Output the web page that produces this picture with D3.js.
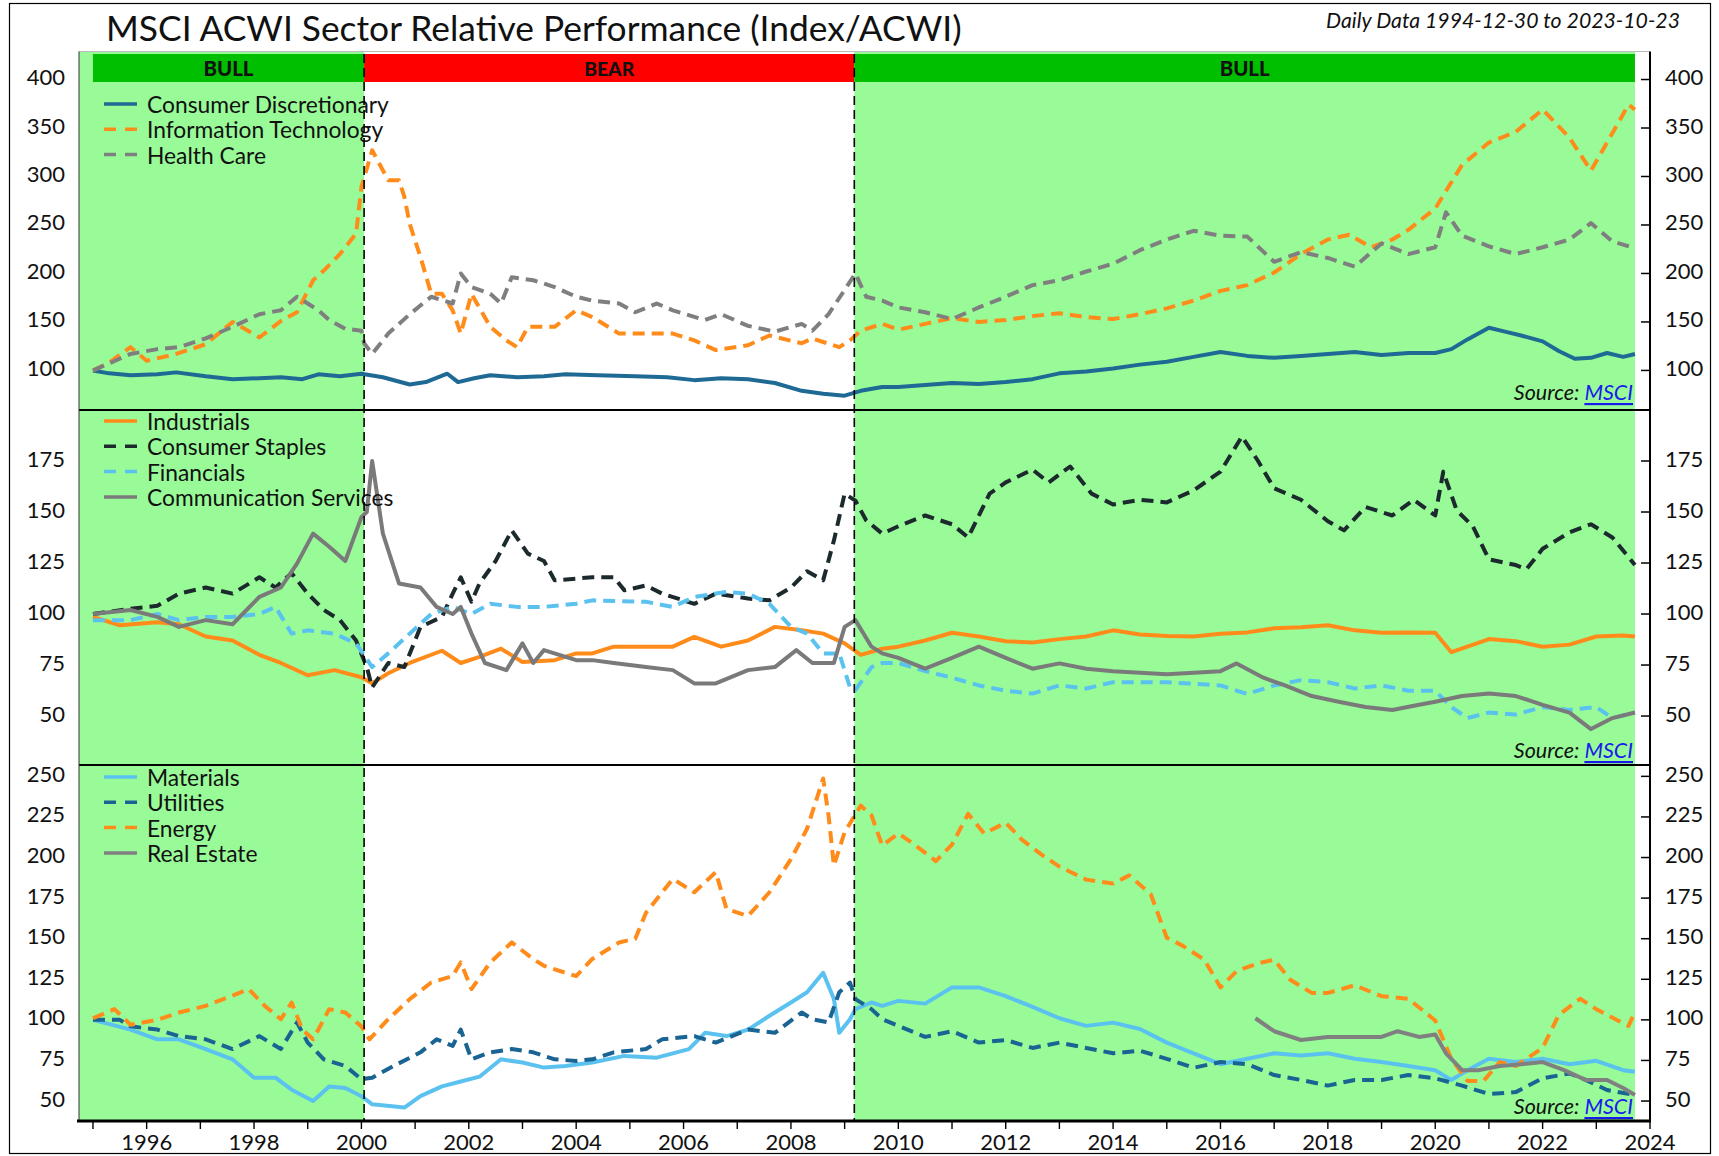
<!DOCTYPE html>
<html><head><meta charset="utf-8">
<script src="https://cdn.jsdelivr.net/npm/d3@7"></script>
<style>
body{margin:0;background:#fff}
svg{display:block}
text{font-family:Lato,'Open Sans',sans-serif;fill:#111}
</style>
</head><body>
<svg id="c" width="1719" height="1156"></svg>
<script>
// ---------- DATA (decimal year, relative index) ----------
const consumerDiscretionary=[[1995.0,100],[1995.3,97],[1995.7,95],[1996.2,96],[1996.55,98],[1997.1,94],[1997.6,91],[1998.1,92],[1998.5,93],[1998.9,91],[1999.2,96],[1999.6,94],[2000.0,96.6],[2000.4,93],[2000.9,85.5],[2001.2,88],[2001.6,96.6],[2001.8,88],[2002.1,92],[2002.4,95],[2002.9,93],[2003.4,94],[2003.8,96],[2004.4,95],[2005.1,94],[2005.7,93],[2006.2,90],[2006.7,92],[2007.2,91],[2007.7,87],[2008.2,79],[2008.6,76],[2009.0,74],[2009.3,79],[2009.7,83],[2010.0,83],[2010.5,85],[2011.0,87],[2011.5,86],[2012.0,88],[2012.5,91],[2013.0,97],[2013.5,99],[2014.0,102],[2014.5,106],[2015.0,109],[2015.5,114],[2016.0,119],[2016.5,115],[2017.0,113],[2017.5,115],[2018.0,117],[2018.5,119],[2019.0,116],[2019.5,118],[2020.0,118],[2020.3,122],[2020.6,132],[2021.0,144],[2021.3,140],[2021.6,136],[2022.0,130],[2022.3,120],[2022.6,112],[2022.9,113],[2023.2,118],[2023.5,114],[2023.72,117]];
const informationTechnology=[[1995.0,100],[1995.3,108],[1995.7,124],[1996.0,110],[1996.55,117],[1997.1,127],[1997.6,150],[1998.1,134],[1998.5,151],[1998.8,160],[1999.1,193],[1999.3,203],[1999.6,220],[1999.9,241],[2000.0,289],[2000.2,327],[2000.5,296],[2000.7,296],[2000.8,279],[2000.9,251],[2001.1,217],[2001.3,179],[2001.5,179],[2001.7,162],[2001.85,138],[2002.05,179],[2002.4,145],[2002.7,131],[2002.9,124],[2003.1,145],[2003.6,145],[2004.0,162],[2004.3,155],[2004.8,138],[2005.3,138],[2005.8,138],[2006.2,131],[2006.6,121],[2007.2,126],[2007.6,136],[2008.2,128],[2008.4,133],[2008.9,124],[2009.1,131],[2009.3,141],[2009.7,148],[2010.0,142],[2010.5,148],[2011.0,154],[2011.5,150],[2012.0,152],[2012.5,156],[2013.0,159],[2013.5,155],[2014.0,153],[2014.5,158],[2015.0,164],[2015.5,172],[2016.0,182],[2016.5,188],[2017.0,201],[2017.5,220],[2018.0,235],[2018.4,240],[2018.8,227],[2019.2,235],[2019.5,245],[2020.0,267],[2020.5,312],[2021.0,335],[2021.5,346],[2022.0,369],[2022.5,340],[2022.9,306],[2023.2,335],[2023.6,374],[2023.72,369]];
const healthCare=[[1995.0,100],[1995.7,117],[1996.2,122],[1996.6,124],[1997.1,133],[1997.6,145],[1998.1,158],[1998.5,162],[1998.8,176],[1999.2,162],[1999.4,152],[1999.7,143],[2000.0,141],[2000.05,128],[2000.2,117],[2000.5,138],[2000.9,158],[2001.3,176],[2001.7,169],[2001.85,200],[2002.05,186],[2002.4,179],[2002.6,169],[2002.8,196],[2003.2,193],[2003.6,186],[2004.0,176],[2004.3,172],[2004.8,169],[2005.1,160],[2005.5,169],[2005.8,162],[2006.4,152],[2006.7,158],[2007.2,146],[2007.7,140],[2008.2,148],[2008.4,141],[2008.7,158],[2009.0,183],[2009.2,200],[2009.4,176],[2009.7,172],[2010.0,165],[2010.5,160],[2011.0,153],[2011.5,165],[2012.0,176],[2012.5,188],[2013.0,193],[2013.5,202],[2014.0,210],[2014.5,224],[2015.0,235],[2015.5,244],[2016.0,239],[2016.5,238],[2017.0,212],[2017.5,222],[2018.0,216],[2018.5,207],[2019.0,231],[2019.5,220],[2020.0,227],[2020.2,263],[2020.5,239],[2021.0,228],[2021.5,220],[2022.0,227],[2022.5,235],[2022.9,252],[2023.3,233],[2023.72,226]];
const industrials=[[1995.0,98.6],[1995.5,94.5],[1996.2,96],[1996.6,95],[1997.1,89],[1997.6,87],[1998.1,80],[1998.5,76],[1999.0,70],[1999.5,72.5],[2000.0,69],[2000.2,66],[2000.5,71],[2000.9,76],[2001.5,82],[2001.85,76],[2002.2,79],[2002.6,83],[2003.0,76.5],[2003.6,77.4],[2004.0,80.7],[2004.3,80.7],[2004.7,84],[2005.3,84],[2005.8,84],[2006.2,88.8],[2006.7,84],[2007.2,87],[2007.7,93.7],[2008.2,92],[2008.6,90.4],[2009.0,85.6],[2009.3,80],[2009.7,83],[2010.0,84],[2010.5,87],[2011.0,90.8],[2011.5,89],[2012.0,86.7],[2012.5,86],[2013.0,87.7],[2013.5,89],[2014.0,92],[2014.5,90],[2015.0,89.2],[2015.5,89],[2016.0,90.3],[2016.5,91],[2017.0,93],[2017.5,93.5],[2018.0,94.5],[2018.5,92],[2019.0,90.8],[2019.5,91],[2020.0,90.8],[2020.3,81.3],[2020.6,84],[2021.0,87.7],[2021.5,86.7],[2022.0,84],[2022.5,85],[2023.0,89],[2023.5,89.5],[2023.72,89]];
const consumerStaples=[[1995.0,100],[1995.7,102.6],[1996.2,104],[1996.6,110],[1997.1,113],[1997.6,110],[1998.1,118],[1998.4,113],[1998.7,120],[1999.0,110],[1999.3,102],[1999.6,97],[1999.9,87],[2000.1,74],[2000.2,64],[2000.5,76],[2000.8,74],[2001.1,93.7],[2001.5,98.6],[2001.7,110],[2001.85,118],[2002.05,106],[2002.2,115],[2002.5,126],[2002.8,141],[2003.1,129.6],[2003.4,126],[2003.6,116.5],[2004.3,118],[2004.7,118],[2004.9,111.6],[2005.3,114],[2005.6,110],[2006.2,105],[2006.6,110],[2007.2,107.6],[2007.6,106.7],[2008.0,113],[2008.3,121],[2008.6,116.5],[2008.8,136],[2009.0,159],[2009.2,155.6],[2009.4,146],[2009.7,139.4],[2010.0,143],[2010.5,148.3],[2011.0,144],[2011.3,137.5],[2011.7,159],[2012.0,164.5],[2012.5,170.8],[2012.8,164.5],[2013.2,172.3],[2013.6,159],[2014.0,153.7],[2014.5,156],[2015.0,154.7],[2015.5,160.6],[2016.0,169.8],[2016.4,187],[2016.7,175],[2017.0,161.6],[2017.5,156],[2018.0,145.5],[2018.3,141],[2018.7,152.5],[2019.2,148.3],[2019.6,156],[2020.0,148.3],[2020.15,169.8],[2020.4,150.8],[2020.7,143],[2021.0,126.8],[2021.5,124],[2021.7,122],[2022.0,132],[2022.5,140],[2022.9,144],[2023.3,137.5],[2023.72,124]];
const financials=[[1995.0,97],[1995.7,97],[1996.2,100],[1996.6,97],[1997.1,98.6],[1997.6,98.6],[1998.1,100],[1998.4,103.5],[1998.7,90.4],[1999.0,92],[1999.5,90.4],[1999.9,85.6],[2000.2,74],[2000.5,80.7],[2000.9,90.4],[2001.3,100],[2001.7,103.5],[2002.05,100],[2002.4,105],[2002.9,103.5],[2003.4,103.5],[2004.0,105],[2004.3,106.7],[2005.3,106],[2005.8,103.5],[2006.2,108.4],[2006.8,110.8],[2007.2,110],[2007.6,105],[2008.0,93.7],[2008.3,90.4],[2008.6,80.7],[2008.9,80.7],[2009.1,64],[2009.2,62.7],[2009.5,74],[2009.7,76],[2010.0,76],[2010.5,72],[2011.0,68.8],[2011.5,65],[2012.0,62.4],[2012.5,61],[2013.0,65],[2013.5,63.5],[2014.0,66.6],[2015.0,66.6],[2016.0,65],[2016.5,60.8],[2017.0,65],[2017.5,67.6],[2018.0,66.6],[2018.5,63.5],[2019.0,65],[2019.5,62.4],[2020.0,62.4],[2020.3,54.4],[2020.6,49],[2021.0,51.7],[2021.5,50.7],[2022.0,54.4],[2022.5,53],[2023.0,54.4],[2023.3,49],[2023.72,51.7]];
const communicationServices=[[1995.0,100],[1995.7,102],[1996.2,98.6],[1996.6,93.7],[1997.1,97],[1997.6,95],[1998.1,108.4],[1998.5,113],[1998.8,124.7],[1999.1,139.4],[1999.4,133],[1999.7,126],[2000.0,147.5],[2000.1,150],[2000.2,175],[2000.4,139.4],[2000.7,115],[2001.1,113],[2001.4,103.5],[2001.7,100],[2001.85,103.5],[2002.05,90.4],[2002.3,76],[2002.7,72.5],[2003.0,85.6],[2003.2,76],[2003.4,82.3],[2004.0,77.4],[2004.3,77.4],[2004.7,76],[2005.3,74],[2005.8,72.5],[2006.2,66],[2006.6,66],[2007.2,72.5],[2007.7,74],[2008.1,82.3],[2008.4,76],[2008.8,76],[2009.0,93.7],[2009.2,97],[2009.5,84],[2009.7,80.7],[2010.0,78.5],[2010.5,73.2],[2011.0,78.5],[2011.5,84],[2012.0,78.5],[2012.5,73.2],[2013.0,75.8],[2013.5,73.2],[2014.0,72],[2015.0,70.5],[2016.0,72],[2016.3,75.8],[2016.8,68.8],[2017.2,65],[2017.7,59.8],[2018.2,57],[2018.7,54.4],[2019.2,53],[2019.7,55.5],[2020.0,57],[2020.5,59.8],[2021.0,61],[2021.5,59.8],[2022.0,55.5],[2022.5,51.7],[2022.9,43.6],[2023.3,49],[2023.72,51.7]];
const materials=[[1995.0,100],[1995.7,94],[1996.2,88],[1996.6,88],[1997.1,82],[1997.6,75.7],[1998.0,64.4],[1998.4,64.4],[1998.7,57],[1999.1,50],[1999.4,59],[1999.7,58],[2000.0,53],[2000.2,48],[2000.8,46],[2001.1,53],[2001.5,59],[2001.85,62],[2002.2,65],[2002.6,75.7],[2003.0,73.7],[2003.4,70.6],[2003.8,71.6],[2004.3,73.7],[2004.9,77.8],[2005.5,76.7],[2006.1,82],[2006.4,92],[2006.8,90],[2007.2,94],[2007.6,102.5],[2008.0,110.7],[2008.3,117],[2008.6,129],[2008.8,112.8],[2008.9,92],[2009.1,100.4],[2009.2,106.6],[2009.5,110.7],[2009.7,108.6],[2010.0,111.7],[2010.5,110],[2011.0,120],[2011.5,120],[2012.0,114.6],[2012.5,108],[2013.0,101],[2013.5,96.3],[2014.0,98.3],[2014.5,94.4],[2015.0,86],[2015.5,79.4],[2016.0,72.7],[2016.5,76],[2017.0,79.4],[2017.5,78],[2018.0,79.4],[2018.5,76],[2019.0,74],[2019.5,71.6],[2020.0,69],[2020.3,63],[2020.6,69],[2021.0,76],[2021.5,74],[2022.0,76],[2022.5,72.7],[2023.0,74.8],[2023.5,69],[2023.72,68]];
const utilities=[[1995.0,100],[1995.5,100],[1995.7,96],[1996.2,94],[1996.6,90],[1997.1,88],[1997.6,82],[1998.1,90],[1998.5,82],[1998.8,98.4],[1999.0,86],[1999.3,75.7],[1999.7,71.6],[2000.0,63.4],[2000.2,64.4],[2000.6,71.6],[2001.1,80],[2001.4,88],[2001.7,84],[2001.85,94],[2002.05,75.7],[2002.4,80],[2002.8,82],[2003.2,80],[2003.6,75.7],[2004.0,74.7],[2004.3,75.7],[2004.7,80],[2005.3,82],[2005.6,88],[2006.2,90],[2006.6,86],[2007.2,94],[2007.7,92],[2008.2,104.5],[2008.4,100.4],[2008.7,98.4],[2008.9,117],[2009.1,123],[2009.2,112.8],[2009.5,106.6],[2009.7,100.4],[2010.0,96.3],[2010.5,89.5],[2011.0,93],[2011.5,86],[2012.0,87.6],[2012.5,82.7],[2013.0,86],[2013.5,82.7],[2014.0,79.4],[2014.5,81],[2015.0,76],[2015.5,70.5],[2016.0,74],[2016.5,72.7],[2017.0,66],[2017.5,63],[2018.0,59.5],[2018.5,63],[2019.0,63],[2019.5,66],[2020.0,64],[2020.5,59.5],[2021.0,54.3],[2021.5,55.5],[2022.0,64],[2022.5,67],[2022.8,63],[2023.2,56.8],[2023.72,53.7]];
const energy=[[1995.0,101],[1995.4,106.6],[1995.7,97],[1996.2,100],[1996.6,104.5],[1997.1,108.6],[1997.6,115],[1997.9,119],[1998.2,108.6],[1998.5,100.4],[1998.7,110.7],[1998.9,94],[1999.1,88],[1999.4,106.6],[1999.7,104.5],[2000.0,96],[2000.15,88],[2000.5,100.4],[2000.9,112.8],[2001.3,123],[2001.7,127],[2001.85,135.4],[2002.05,119],[2002.4,135.4],[2002.8,147.7],[2003.2,137.5],[2003.4,133.3],[2003.8,129],[2004.0,127],[2004.3,137.5],[2004.8,147.7],[2005.1,150],[2005.3,166],[2005.8,186.8],[2006.2,178.6],[2006.6,191],[2006.8,168.3],[2007.2,164],[2007.6,178.6],[2008.0,199],[2008.3,217.7],[2008.6,248.6],[2008.7,226],[2008.8,195],[2009.0,215.6],[2009.3,232],[2009.5,226],[2009.7,207.4],[2010.0,214.8],[2010.3,208],[2010.7,197.8],[2011.0,208],[2011.3,226.9],[2011.6,214.8],[2012.0,221.5],[2012.3,211],[2012.7,201],[2013.0,194.4],[2013.5,186.4],[2014.0,184],[2014.3,189],[2014.7,177.5],[2015.0,150.6],[2015.3,145.6],[2015.7,137],[2016.0,120],[2016.3,130],[2016.7,134.8],[2017.0,137],[2017.3,124.7],[2017.7,116.6],[2018.0,116.6],[2018.5,121.3],[2019.0,114.6],[2019.5,113],[2020.0,99.6],[2020.3,76],[2020.6,62.4],[2020.9,62.4],[2021.2,74],[2021.5,71.6],[2022.0,82.7],[2022.3,103],[2022.7,113],[2023.0,106.6],[2023.4,99.6],[2023.6,96.3],[2023.72,105]];
const realEstate=[[2016.65,101],[2017.0,93],[2017.5,87.6],[2018.0,89.5],[2018.5,89.5],[2019.0,89.5],[2019.3,93],[2019.7,89.5],[2020.0,91],[2020.2,79.4],[2020.5,69],[2020.8,69],[2021.2,71.6],[2021.6,72.7],[2022.0,74],[2022.4,69],[2022.8,63],[2023.2,63],[2023.5,58],[2023.72,53.7]];

const regimeLabels=["BULL","BEAR","BULL"];
const regimeStarts=[1995.0,2000.05,2009.18];
const regimeEnds=[2000.05,2009.18,2023.72];
const panel1Ticks=[100,150,200,250,300,350,400];
const panel2Ticks=[50,75,100,125,150,175];
const panel3Ticks=[50,75,100,125,150,175,200,225,250];
const yearTicks=d3.range(1995,2025);
const yearLabels=d3.range(1996,2025,2);

// ---------- LAYOUT ----------
const svg=d3.select('#c');
const X0=79, X1=1650;
const x=d3.scaleLinear().domain([1994.74,2024]).range([X0,X1]);
const C={blue:'#1f6a94',orange:'#ff8c1a',grey:'#7f7f7f',dark:'#1c2a2e',light:'#5bc2f0'};
const panels=[
 {top:51.5,bottom:410,domain:[59.2,428.9],ticks:panel1Ticks,legendY:104,
  series:[{name:'Consumer Discretionary',data:consumerDiscretionary,color:C.blue,dash:null},
          {name:'Information Technology',data:informationTechnology,color:C.orange,dash:'12,7'},
          {name:'Health Care',data:healthCare,color:C.grey,dash:'12,7'}]},
 {top:410,bottom:765,domain:[26,200],ticks:panel2Ticks,legendY:421,
  series:[{name:'Industrials',data:industrials,color:C.orange,dash:null},
          {name:'Consumer Staples',data:consumerStaples,color:C.dark,dash:'12,7'},
          {name:'Financials',data:financials,color:C.light,dash:'12,7'},
          {name:'Communication Services',data:communicationServices,color:'#7a7a7a',dash:null}]},
 {top:765,bottom:1121,domain:[37.7,257],ticks:panel3Ticks,legendY:777,
  series:[{name:'Materials',data:materials,color:C.light,dash:null},
          {name:'Utilities',data:utilities,color:'#1a6494',dash:'12,7'},
          {name:'Energy',data:energy,color:C.orange,dash:'12,7'},
          {name:'Real Estate',data:realEstate,color:'#808080',dash:null}]}
];

function fit(sel,base,target){
  const w=sel.node().getComputedTextLength();
  sel.style('font-size',(base*target/w).toFixed(2)+'px');
}

// outer frame
svg.append('rect').attr('x',9.5).attr('y',3.5).attr('width',1701).attr('height',1150)
  .attr('fill','none').attr('stroke','#000').attr('stroke-width',1.2);

// shading
const TOP=51.5, BOT=1121;
regimeLabels.forEach((l,i)=>{
  if(l==='BULL'){
    const xs = i===0? X0 : x(regimeStarts[i]);
    svg.append('rect').attr('x',xs).attr('y',TOP).attr('width',x(regimeEnds[i])-xs).attr('height',BOT-TOP).attr('fill','#98fb98');
  }
});
svg.append('line').attr('x1',X0).attr('x2',X1).attr('y1',TOP).attr('y2',TOP).attr('stroke','#bbb').attr('stroke-width',1);

// regime bar
regimeLabels.forEach((l,i)=>{
  const a=x(regimeStarts[i]), b=x(regimeEnds[i]);
  svg.append('rect').attr('x',a).attr('y',54).attr('width',b-a).attr('height',28)
     .attr('fill', l==='BULL'?'#00bf00':'#ff0000');
  const t=svg.append('text').attr('x',(a+b)/2).attr('y',68).attr('text-anchor','middle')
     .attr('dominant-baseline','central').style('font-weight','900').style('font-size','19px').text(l);
  fit(t,19,50);
});

// panels
const line=d3.line();
panels.forEach((p,pi)=>{
  const y=d3.scaleLinear().domain(p.domain).range([p.bottom,p.top]);
  const clipId='clip'+pi;
  svg.append('clipPath').attr('id',clipId).append('rect').attr('x',X0).attr('y',p.top+(pi===0?30:1)).attr('width',X1-X0).attr('height',p.bottom-p.top-(pi===0?30:1));
  const g=svg.append('g').attr('clip-path',`url(#${clipId})`);
  p.series.forEach(s=>{
    g.append('path').attr('d',line.x(d=>x(d[0])).y(d=>y(d[1]))(s.data))
     .attr('fill','none').attr('stroke',s.color).attr('stroke-width',4)
     .attr('stroke-linejoin','round').attr('stroke-dasharray',s.dash);
  });
  p.ticks.forEach(t=>{
    const ty=y(t);
    svg.append('line').attr('x1',X1-9).attr('x2',X1).attr('y1',ty).attr('y2',ty).attr('stroke','#000').attr('stroke-width',1.5);
    svg.append('text').attr('x',65).attr('y',ty-3).attr('text-anchor','end').attr('dominant-baseline','central').style('font-size','22px').text(t);
    svg.append('text').attr('x',1665).attr('y',ty-3).attr('text-anchor','start').attr('dominant-baseline','central').style('font-size','22px').text(t);
  });
  p.series.forEach((s,i)=>{
    const ly=p.legendY+i*25.3;
    svg.append('line').attr('x1',104).attr('x2',137).attr('y1',ly).attr('y2',ly)
      .attr('stroke',s.color).attr('stroke-width',3.5).attr('stroke-dasharray',s.dash?'12,9':null);
    svg.append('text').attr('x',147).attr('y',ly).attr('dominant-baseline','central').style('font-size','22.8px').text(s.name);
  });
  const srcY=[392,750,1106][pi];
  const st=svg.append('text').attr('x',1633).attr('y',srcY).attr('text-anchor','end').attr('dominant-baseline','central')
     .style('font-size','21.5px').style('font-style','italic');
  st.append('tspan').text('Source: ');
  st.append('tspan').style('fill','#1a1aee').style('text-decoration','underline').text('MSCI');
});

// regime boundaries (dashed)
[regimeStarts[1],regimeEnds[1]].forEach(v=>{
  svg.append('line').attr('x1',x(v)).attr('x2',x(v)).attr('y1',54).attr('y2',BOT)
    .attr('stroke','#000').attr('stroke-width',1.6).attr('stroke-dasharray','9,5');
});

// separators and frame lines
[410,765].forEach(v=>svg.append('line').attr('x1',X0).attr('x2',X1).attr('y1',v).attr('y2',v).attr('stroke','#000').attr('stroke-width',2.2));
svg.append('line').attr('x1',X0).attr('x2',X0).attr('y1',TOP).attr('y2',BOT).attr('stroke','#333').attr('stroke-width',1);
svg.append('line').attr('x1',X1).attr('x2',X1).attr('y1',TOP).attr('y2',BOT).attr('stroke','#000').attr('stroke-width',2);
svg.append('line').attr('x1',77).attr('x2',X1+1).attr('y1',BOT).attr('y2',BOT).attr('stroke','#000').attr('stroke-width',3);

// x axis
yearTicks.forEach(t=>svg.append('line').attr('x1',x(t)).attr('x2',x(t)).attr('y1',BOT).attr('y2',BOT+8).attr('stroke','#000').attr('stroke-width',1.4));
yearLabels.forEach(t=>svg.append('text').attr('x',x(t)).attr('y',1141).attr('text-anchor','middle').attr('dominant-baseline','central').style('font-size','22px').text(t));

// titles
const title=svg.append('text').attr('x',106).attr('y',27).attr('dominant-baseline','central').style('font-size','32px')
  .text('MSCI ACWI Sector Relative Performance (Index/ACWI)');
fit(title,32,856);
const sub=svg.append('text').attr('x',1680).attr('y',20).attr('text-anchor','end').attr('dominant-baseline','central')
  .style('font-size','20px').style('font-style','italic').text('Daily Data 1994-12-30 to 2023-10-23');
fit(sub,20,354);
</script>
</body></html>
